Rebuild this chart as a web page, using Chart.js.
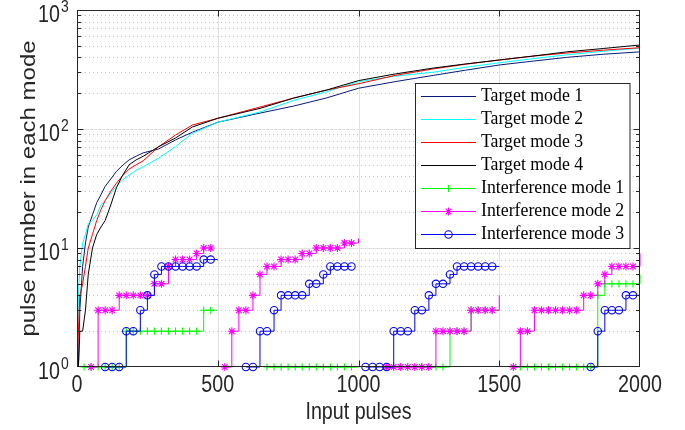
<!DOCTYPE html>
<html>
<head>
<meta charset="utf-8">
<script src="https://cdn.jsdelivr.net/npm/chart.js@4.4.0/dist/chart.umd.min.js"></script>
<style>
  html, body { margin: 0; padding: 0; background: #fff; }
  #wrap { width: 685px; height: 430px; }
</style>
</head>
<body>
<div id="wrap"><canvas id="myChart" width="685" height="430"></canvas></div>
<script>
// ---- data ----
const xTickValues = [0, 500, 1000, 1500, 2000];
const xTickLabels = ['0', '500', '1000', '1500', '2000'];
const yTickValues = [1, 10, 100, 1000];
const yTickBase = ['10', '10', '10', '10'];
const yTickPower = ['0', '1', '2', '3'];
const xTitle = 'Input pulses';
const yTitle = 'pulse number in each mode';

// target modes (cumulative pulse counts)
const targetPulses = [0, 5, 10, 20, 30, 40, 55, 70, 85, 100, 120, 140, 160, 185, 210, 235, 290, 350, 410, 500,
                      650, 770, 885, 1000, 1130, 1265, 1380, 1500, 1620, 1740, 1870, 2000];
const target1 = [1, 1, 3, 7, 11, 15, 19, 24, 28, 33, 38, 44, 49, 55, 59, 63, 68, 81, 94, 114,
                 136, 156, 182, 220, 250, 282, 312, 345, 372, 400, 425, 445];
const target2 = [1, 4, 7, 11, 13, 16, 17, 19, 23, 25, 29, 33, 37, 41, 45, 48, 57, 71, 92, 114,
                 139, 174, 205, 250, 278, 300, 330, 360, 390, 420, 450, 478];
const target3 = [1, 2, 4, 5, 7, 10, 13, 17, 21, 25, 30, 35, 40, 46, 50, 54, 71, 89, 108, 123,
                 153, 182, 212, 240, 282, 320, 350, 380, 410, 435, 460, 482];
const target4 = [1, 1, 2, 2, 3, 6, 10, 13, 15, 17, 23, 32, 40, 50, 55, 59, 71, 84, 104, 123,
                 149, 182, 212, 255, 290, 325, 352, 380, 410, 445, 475, 508];

// interference modes, sampled every 25 pulses (null = zero count, not shown on log axis)
const samplePulses = [0, 25, 50, 75, 100, 125, 150, 175, 200, 225, 250, 275, 300, 325, 350, 375, 400, 425, 450, 475,
                      500, 525, 550, 575, 600, 625, 650, 675, 700, 725, 750, 775, 800, 825, 850, 875, 900, 925, 950, 975,
                      1000, 1025, 1050, 1075, 1100, 1125, 1150, 1175, 1200, 1225, 1250, 1275, 1300, 1325, 1350, 1375, 1400, 1425, 1450, 1475,
                      1500, 1525, 1550, 1575, 1600, 1625, 1650, 1675, 1700, 1725, 1750, 1775, 1800, 1825, 1850, 1875, 1900, 1925, 1950, 1975,
                      2000];
const interf1 = [null, 1, 1, 1, 1, 1, 1, 2, 2, 2,
                 2, 2, 2, 2, 2, 2, 2, 2, 3, 3,
                 3, null, null, null, null, null, null, 1, 1, 1,
                 1, 1, 1, 1, 1, 1, 1, 1, 1, 1,
                 1, null, null, null, null, null, null, null, null, 1,
                 1, 1, 1, 2, 2, 2, 3, 3, 3, 3,
                 3, null, null, 1, 1, 1, 1, 1, 1, 1,
                 1, 1, 1, 1, 4, 5, 5, 5, 5, 5,
                 6];
const interf2 = [null, null, 1, 3, 3, 3, 4, 4, 4, 4,
                 4, 5, 5, 7, 8, 8, 8, 9, 10, 10,
                 null, 1, 2, 3, 3, 4, 6, 7, 7, 8,
                 8, 8, 9, 9, 10, 10, 10, 10, 11, 11,
                 12, null, null, null, 1, 1, 1, 1, 1, 1,
                 1, 2, 2, 2, 2, 2, 3, 3, 3, 3,
                 4, null, 1, 2, 2, 3, 3, 3, 3, 3,
                 3, 3, 4, 4, 5, 6, 7, 7, 7, 7,
                 9];
const interf3 = [null, null, null, null, 1, 1, 1, 2, 2, 3,
                 4, 6, 7, 7, 7, 7, 7, 7, 8, 8,
                 8, null, null, null, 1, 1, 2, 2, 3, 4,
                 4, 4, 4, 5, 5, 6, 7, 7, 7, 7,
                 null, 1, 1, 1, 1, 2, 2, 2, 3, 3,
                 4, 5, 5, 6, 7, 7, 7, 7, 7, 7,
                 7, null, null, null, null, null, null, null, null, null,
                 null, null, null, 1, 2, 3, 3, 3, 4, 4,
                 4];

const seriesLabels = ['Target mode 1', 'Target mode 2', 'Target mode 3', 'Target mode 4',
                      'Interference mode 1', 'Interference mode 2', 'Interference mode 3'];
const seriesColors = ['#0b1a78', '#00ffff', '#ff0000', '#000000', '#00ff00', '#ff00ff', '#0000ff'];
const markerStyles = [false, false, false, false, 'cross', 'star', 'circle'];
const markerSizes = [0, 0, 0, 0, 3.6, 4, 3.7];

const axisFamily = "'Liberation Sans', Arial, sans-serif";
const squeeze = 0.82; // axis text in the figure is squeezed horizontally
const legendFont = "17.8px 'Liberation Serif', 'Times New Roman', serif";

const toPoints = (xs, ys) => xs.map((p, i) => ({ x: p, y: ys[i] }));

const targetSets = [target1, target2, target3, target4].map((vals, i) => ({
  label: seriesLabels[i],
  data: toPoints(targetPulses, vals),
  borderColor: seriesColors[i],
  backgroundColor: seriesColors[i],
  borderWidth: 1,
  pointRadius: 0,
  tension: 0,
  order: 7 - i
}));

const interfSets = [interf1, interf2, interf3].map((vals, j) => {
  const i = j + 4;
  return {
    label: seriesLabels[i],
    data: toPoints(samplePulses, vals),
    borderColor: seriesColors[i],
    backgroundColor: 'rgba(0,0,0,0)',
    borderWidth: 1,
    stepped: true,
    spanGaps: false,
    clip: 5, // markers on the bottom edge stay whole
    pointStyle: markerStyles[i],
    // no marker on the reset points (every 500 pulses)
    pointRadius: (c) => (samplePulses[c.dataIndex] % 500 === 0 ? 0 : markerSizes[i]),
    pointBorderWidth: 1.1,
    pointBorderColor: seriesColors[i],
    pointBackgroundColor: 'rgba(0,0,0,0)',
    order: 7 - i
  };
});

function narrowText(ctx, text, x, y, size, align, rotated) {
  ctx.save();
  ctx.translate(x, y);
  if (rotated) {
    ctx.rotate(-Math.PI / 2);
    ctx.scale(1, squeeze);
  } else {
    ctx.scale(squeeze, 1);
  }
  ctx.font = size + 'px ' + axisFamily;
  ctx.textAlign = align;
  ctx.fillText(text, 0, 0);
  ctx.restore();
}

// matlab-like grid: solid major, dotted minor, box with inward ticks
const gridPlugin = {
  id: 'mGrid',
  beforeDatasetsDraw(chart) {
    const { ctx, chartArea: a, scales: { x, y } } = chart;
    ctx.save();
    ctx.lineWidth = 1;
    ctx.strokeStyle = '#c4c4c4';
    ctx.setLineDash([1, 3]);
    [1, 10, 100].forEach((d) => {
      [2, 3, 4, 5, 6, 7, 8, 9].forEach((m) => {
        const py = Math.round(y.getPixelForValue(d * m)) + 0.5;
        ctx.beginPath(); ctx.moveTo(a.left, py); ctx.lineTo(a.right, py); ctx.stroke();
      });
    });
    ctx.setLineDash([]);
    ctx.strokeStyle = '#e2e2e2';
    [10, 100].forEach((v) => {
      const py = Math.round(y.getPixelForValue(v)) + 0.5;
      ctx.beginPath(); ctx.moveTo(a.left, py); ctx.lineTo(a.right, py); ctx.stroke();
    });
    [500, 1000, 1500].forEach((v) => {
      const px = Math.round(x.getPixelForValue(v)) + 0.5;
      ctx.beginPath(); ctx.moveTo(px, a.top); ctx.lineTo(px, a.bottom); ctx.stroke();
    });
    ctx.restore();
  },
  afterDatasetsDraw(chart) {
    const { ctx, chartArea: a, scales: { x, y } } = chart;
    ctx.save();
    ctx.strokeStyle = '#262626';
    ctx.lineWidth = 1;
    const L = Math.round(a.left) + 0.5, R = Math.round(a.right) - 0.5;
    const T = Math.round(a.top) + 0.5, B = Math.round(a.bottom) - 0.5;
    ctx.strokeRect(L, T, R - L, B - T);
    ctx.beginPath();
    [500, 1000, 1500].forEach((v) => {
      const px = Math.round(x.getPixelForValue(v)) + 0.5;
      ctx.moveTo(px, B); ctx.lineTo(px, B - 6);
      ctx.moveTo(px, T); ctx.lineTo(px, T + 6);
    });
    [1, 10, 100].forEach((d) => {
      [1, 2, 3, 4, 5, 6, 7, 8, 9].forEach((m) => {
        if (d * m === 1) return;
        const len = m === 1 ? 6 : 3.5;
        const py = Math.round(y.getPixelForValue(d * m)) + 0.5;
        ctx.moveTo(L, py); ctx.lineTo(L + len, py);
        ctx.moveTo(R, py); ctx.lineTo(R - len, py);
      });
    });
    ctx.stroke();

    // axis texts
    ctx.fillStyle = '#262626';
    ctx.textBaseline = 'alphabetic';
    xTickValues.forEach((v, i) => {
      narrowText(ctx, xTickLabels[i], x.getPixelForValue(v), 392, 24, 'center', false);
    });
    yTickValues.forEach((v, i) => {
      const py = y.getPixelForValue(v);
      narrowText(ctx, yTickBase[i], 60, py + 12, 24, 'right', false);
      narrowText(ctx, yTickPower[i], 61, py + 2, 17, 'left', false);
    });
    narrowText(ctx, xTitle, (a.left + a.right) / 2, 419, 24, 'center', false);
    narrowText(ctx, yTitle, 35, (a.top + a.bottom) / 2, 24, 'center', true);
    ctx.restore();
  }
};

// legend box inside the axes, upper right
const legendPlugin = {
  id: 'mLegend',
  afterDraw(chart) {
    const ctx = chart.ctx;
    const bx = 415.5, by = 83.5, bw = 214.5, bh = 165;
    const rowY = 96, rowStep = 23;
    ctx.save();
    ctx.fillStyle = '#ffffff';
    ctx.fillRect(bx, by, bw, bh);
    ctx.strokeStyle = '#262626';
    ctx.lineWidth = 1;
    ctx.strokeRect(bx, by, bw, bh);
    chart.data.datasets.forEach((ds, i) => {
      const cy = Math.round(rowY + i * rowStep) + 0.5;
      ctx.strokeStyle = ds.borderColor;
      ctx.lineWidth = 1;
      ctx.beginPath(); ctx.moveTo(421, cy); ctx.lineTo(476, cy); ctx.stroke();
      if (markerStyles[i]) {
        ctx.fillStyle = 'rgba(0,0,0,0)';
        ctx.lineWidth = 1.1;
        Chart.helpers.drawPoint(ctx, { pointStyle: markerStyles[i], radius: markerSizes[i], rotation: 0, borderWidth: 1.1 }, 448.5, cy);
      }
      ctx.fillStyle = '#000000';
      ctx.font = legendFont;
      ctx.textBaseline = 'middle';
      ctx.textAlign = 'left';
      ctx.fillText(ds.label, 481, cy);
    });
    ctx.restore();
  }
};

const ctx = document.getElementById('myChart').getContext('2d');
const myChart = new Chart(ctx, {
  type: 'line',
  data: { datasets: targetSets.concat(interfSets) },
  options: {
    responsive: false,
    animation: false,
    layout: { padding: { top: 10, right: 45, left: 0, bottom: 0 } },
    plugins: { legend: { display: false }, tooltip: { enabled: false } },
    scales: {
      x: {
        type: 'linear', min: 0, max: 2000,
        afterBuildTicks: (s) => { s.ticks = xTickValues.map((v) => ({ value: v })); },
        afterFit: (s) => { s.height = 63; },
        grid: { display: false },
        border: { display: false },
        ticks: { display: false }
      },
      y: {
        type: 'logarithmic', min: 1, max: 1000,
        afterBuildTicks: (s) => { s.ticks = yTickValues.map((v) => ({ value: v })); },
        afterFit: (s) => { s.width = 77; },
        grid: { display: false },
        border: { display: false },
        ticks: { display: false }
      }
    }
  },
  plugins: [gridPlugin, legendPlugin]
});
</script>
</body>
</html>
